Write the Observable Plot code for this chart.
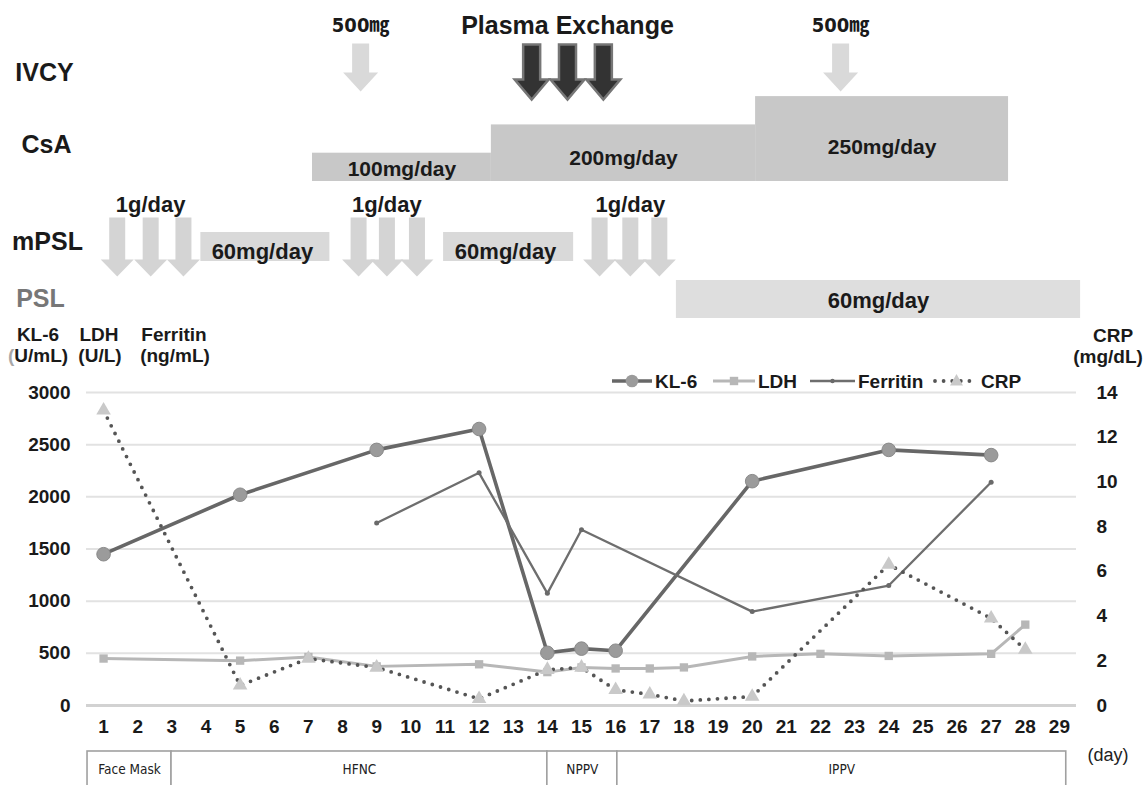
<!DOCTYPE html>
<html><head><meta charset="utf-8">
<script src="https://cdn.jsdelivr.net/npm/d3@7"></script>
<script src="https://cdn.jsdelivr.net/npm/@observablehq/plot@0.6"></script>
<style>
html,body{margin:0;padding:0;background:#fff;overflow:hidden;}
#fig{position:relative;width:1145px;height:785px;font-family:"Liberation Sans",Arial,sans-serif;color:#1a1a1a;}
.lbl{position:absolute;transform:translate(-50%,-50%);white-space:nowrap;font-weight:bold;font-size:19px;line-height:1;}
</style></head><body><div id="fig"></div>
<script>
// ---------------- DATA ----------------
const days = d3.range(1, 30);
const kl6Days   = [1, 5, 9, 12, 14, 15, 16, 20, 24, 27];
const kl6Values = [1450, 2020, 2450, 2650, 505, 545, 525, 2150, 2450, 2400];
const ldhDays   = [1, 5, 7, 9, 12, 14, 15, 16, 17, 18, 20, 22, 24, 27, 28];
const ldhValues = [450, 430, 465, 375, 395, 320, 365, 355, 355, 365, 470, 495, 475, 495, 775];
const ferritinDays   = [9, 12, 14, 15, 20, 24, 27];
const ferritinValues = [1750, 2230, 1075, 1685, 900, 1150, 2140];
const crpDays   = [1, 5, 7, 9, 12, 14, 15, 16, 17, 18, 20, 24, 27, 28];
const crpValues = [13.2, 0.9, 2.1, 1.7, 0.3, 1.6, 1.7, 0.7, 0.5, 0.2, 0.4, 6.3, 3.9, 2.5];
const leftTicks = [0, 500, 1000, 1500, 2000, 2500, 3000];
const crpTicks  = [0, 2, 4, 6, 8, 10, 12, 14];

// treatments (days, fractional positions as drawn)
const ivcyDays  = [8.53, 22.59];
const ivcyLabel = "500㎎";
const plasmaDays = [13.54, 14.59, 15.64];
const plasmaLabel = "Plasma Exchange";
const csaFrom  = [7.12, 12.36, 20.1];
const csaTo    = [12.36, 20.1, 27.51];
const csaLevel = [1, 2, 3];
const csaLabels = ["100mg/day", "200mg/day", "250mg/day"];
const mpslPulseDays = [[1.4, 2.38, 3.34], [8.47, 9.3, 10.18], [15.53, 16.43, 17.28]];
const mpslPulseLabel = "1g/day";
const mpslTaperFrom = [3.85, 10.96];
const mpslTaperTo   = [7.63, 14.77];
const mpslTaperLabel = "60mg/day";
const pslFrom = [17.78], pslTo = [29.62], pslLabel = ["60mg/day"];
const rowLabels = ["IVCY", "CsA", "mPSL", "PSL"];
const ventFrom   = [0.53, 2.99, 14.0, 16.05];
const ventTo     = [2.99, 14.0, 16.05, 29.2];
const ventLabels = ["Face Mask", "HFNC", "NPPV", "IPPV"];

// ---------------- helpers ----------------
const W = 1145;
const X = {domain: [0.5, 29.5], range: [86, 1076]};
const CRP_MAX = 14, LEFT_MAX = 3000;
const toLeft = v => v * LEFT_MAX / CRP_MAX;
const FONT = '"Liberation Sans", Arial, sans-serif';
const NARROW = '"Liberation Sans Narrow", "DejaVu Sans Condensed", "Noto Sans CJK JP", sans-serif';
const zip = (xs, ys) => xs.map((d, i) => ({day: d, v: ys[i]}));
const kl6 = zip(kl6Days, kl6Values), ldh = zip(ldhDays, ldhValues),
      fer = zip(ferritinDays, ferritinValues), crp = zip(crpDays, crpValues);

function blockArrow(sw, hw, sh, hh) {
  return {draw(ctx) {
    ctx.moveTo(-sw / 2, 0); ctx.lineTo(sw / 2, 0); ctx.lineTo(sw / 2, sh);
    ctx.lineTo(hw / 2, sh); ctx.lineTo(0, sh + hh); ctx.lineTo(-hw / 2, sh);
    ctx.lineTo(-sw / 2, sh); ctx.closePath();
  }};
}
const fig = document.getElementById("fig");
function place(node, y) { node.style.position = "absolute"; node.style.top = y + "px"; node.style.left = "0px"; fig.appendChild(node); }
function label(txt, x, y, extra = {}) {
  const d = document.createElement("div"); d.className = "lbl"; d.innerHTML = txt;
  d.style.left = x + "px"; d.style.top = y + "px"; Object.assign(d.style, extra); fig.appendChild(d);
}

// ---------------- TOP: treatments ----------------
const L = { // layout (px within top panel)
  ivcyTop: 43, ivcyText: 25, plasmaTop: 44, plasmaText: 25,
  csaBase: 181, csaStep: 28.3,
  mpslTop: 217, mpslText: 204, mpslBar: [232, 261], mpslBarText: 251,
  pslBar: [280, 318], pslText: 300,
  rowY: [72, 144, 241, 298], rowX: [44, 46, 47, 40]
};
const ivcy = ivcyDays.map(d => ({day: d, label: ivcyLabel}));
const plasma = plasmaDays.map(d => ({day: d}));
const csa = csaFrom.map((f, i) => ({from: f, to: csaTo[i], level: csaLevel[i], label: csaLabels[i]}));
const pulses = mpslPulseDays.flatMap((g, gi) => g.map((d, i) => ({day: d, g: gi, mid: i === 1})));
const tapers = mpslTaperFrom.map((f, i) => ({from: f, to: mpslTaperTo[i]}));
const psl = pslFrom.map((f, i) => ({from: f, to: pslTo[i], label: pslLabel[i]}));
const rows = rowLabels.map((r, i) => ({label: r, y: L.rowY[i], cx: L.rowX[i]}));

const topPlot = Plot.plot({
  width: W, height: 330, margin: 0,
  x: {...X, axis: null}, y: {domain: [0, 330], range: [0, 330], axis: null},
  style: {fontFamily: FONT, color: "#1a1a1a", background: "transparent", overflow: "visible"},
  marks: [
    Plot.rect(csa, {x1: "from", x2: "to", y1: d => L.csaBase - d.level * L.csaStep, y2: L.csaBase, fill: "#c8c8c8"}),
    Plot.text(csa, {x: d => (d.from + d.to) / 2, y: d => L.csaBase - d.level * L.csaStep / 2 + 3.5 * d.level - 2, text: "label", fontSize: 21, fontWeight: "bold"}),
    Plot.dot(ivcy, {x: "day", y: L.ivcyTop, symbol: blockArrow(17, 35, 29, 19), r: 10, fill: "#d9d9d9", stroke: "none"}),
    Plot.text(ivcy, {x: "day", y: L.ivcyText, text: "label", fontSize: 20, fontWeight: "bold", fontFamily: NARROW}),
    Plot.dot(plasma, {x: "day", y: L.plasmaTop, symbol: blockArrow(17, 34, 35, 20), r: 10, fill: "#333", stroke: "#767676", strokeWidth: 2.5}),
    Plot.text([plasmaLabel], {x: d3.mean(plasmaDays), y: L.plasmaText, text: d => d, fontSize: 25, fontWeight: "bold"}),
    Plot.rect(tapers, {x1: "from", x2: "to", y1: L.mpslBar[0], y2: L.mpslBar[1], fill: "#d9d9d9"}),
    Plot.text(tapers, {x: d => (d.from + d.to) / 2, y: L.mpslBarText, text: () => mpslTaperLabel, fontSize: 22, fontWeight: "bold", dx: -3}),
    Plot.dot(pulses, {x: "day", y: L.mpslTop, symbol: blockArrow(16, 33, 42, 17), r: 10, fill: "#d4d4d4", stroke: "none"}),
    Plot.text(pulses.filter(d => d.mid), {x: "day", y: L.mpslText, text: () => mpslPulseLabel, fontSize: 22, fontWeight: "bold"}),
    Plot.rect(psl, {x1: "from", x2: "to", y1: L.pslBar[0], y2: L.pslBar[1], fill: "#dedede"}),
    Plot.text(psl, {x: d => (d.from + d.to) / 2, y: L.pslText, text: "label", fontSize: 22, fontWeight: "bold"}),
    ...rows.map(r => Plot.text([r], {frameAnchor: "left", y: "y", dx: r.cx, textAnchor: "middle", text: "label", fontSize: 25, fontWeight: "bold",
      fill: r.label === "PSL" ? "#777" : "#1a1a1a"}))
  ]
});
place(topPlot, 0);

// ---------------- MAIN chart ----------------
const mainPlot = Plot.plot({
  width: W, height: 420, marginLeft: 86, marginRight: 69, marginTop: 62, marginBottom: 45,
  x: X, y: {domain: [0, LEFT_MAX]},
  style: {fontFamily: FONT, color: "#1a1a1a", background: "transparent", overflow: "visible"},
  marks: [
    Plot.gridY(leftTicks.filter(v => v > 0), {stroke: "#e2e2e2", strokeOpacity: 1, strokeWidth: 2}),
    Plot.ruleY([0], {stroke: "#d2d2d2", strokeWidth: 3}),
    Plot.axisY(leftTicks, {anchor: "left", tickSize: 0, tickPadding: 16, fontSize: 19, fontWeight: "bold", label: null, tickFormat: v => String(v)}),
    Plot.axisY(crpTicks.map(toLeft), {anchor: "right", tickSize: 0, tickPadding: 20, fontSize: 19, fontWeight: "bold", label: null,
      tickFormat: v => String(Math.round(v * CRP_MAX / LEFT_MAX))}),
    Plot.axisX(days, {anchor: "bottom", tickSize: 0, tickPadding: 14, fontSize: 19, fontWeight: "bold", label: null}),
    Plot.line(ldh, {x: "day", y: "v", stroke: "#b7b7b7", strokeWidth: 3}),
    Plot.line(kl6, {x: "day", y: "v", stroke: "#676767", strokeWidth: 3.6}),
    Plot.line(fer, {x: "day", y: "v", stroke: "#6e6e6e", strokeWidth: 2.3}),
    Plot.line(crp, {x: "day", y: d => toLeft(d.v), stroke: "#555", strokeWidth: 3.8, strokeDasharray: "0 8.6", strokeLinecap: "round"}),
    Plot.dot(ldh, {x: "day", y: "v", symbol: "square", r: 4.7, fill: "#b7b7b7", stroke: "none"}),
    Plot.dot(kl6, {x: "day", y: "v", r: 6.8, fill: "#9b9b9b", stroke: "#8a8a8a", strokeWidth: 1}),
    Plot.dot(fer, {x: "day", y: "v", r: 2.5, fill: "#6a6a6a", stroke: "none"}),
    Plot.dot(crp, {x: "day", y: d => toLeft(d.v), symbol: "triangle", r: 5.4, fill: "#c9c9c9", stroke: "none"})
  ]
});
place(mainPlot, 330);

// ---------------- BOTTOM: ventilation ----------------
const vent = ventFrom.map((f, i) => ({from: f, to: ventTo[i], label: ventLabels[i]}));
const bottomPlot = Plot.plot({
  width: W, height: 40, marginTop: 1, marginBottom: 0, marginLeft: 86, marginRight: 69,
  x: {...X, axis: null}, y: {axis: null},
  style: {fontFamily: FONT, color: "#222", background: "transparent"},
  marks: [
    Plot.rect(vent, {x1: "from", x2: "to", fill: "white", stroke: "#a0a0a0", strokeWidth: 1.6}),
    Plot.text(vent, {x: d => (d.from + d.to) / 2, text: "label", fontSize: 13.5, fontFamily: NARROW, dy: -1})
  ]
});
place(bottomPlot, 750);

// ---------------- header labels / units ----------------
label("KL-6", 38, 334); label('<span style="color:#a8a8a8">(</span>U/mL)', 38, 355);
label("LDH", 99, 334);  label("(U/L)", 100, 355);
label("Ferritin", 174, 334); label("(ng/mL)", 175, 355);
label("CRP", 1113, 335); label("(mg/dL)", 1108, 356);
label("(day)", 1108, 755, {fontWeight: "normal", fontSize: "18px", color: "#222"});

// ---------------- legend ----------------
const legendItems = [
  {name: "KL-6", x0: 612, x1: 652, stroke: "#676767", sw: 3.6, dash: null, marker: "circle", mfill: "#9b9b9b"},
  {name: "LDH", x0: 713, x1: 755, stroke: "#b7b7b7", sw: 3, dash: null, marker: "square", mfill: "#b7b7b7"},
  {name: "Ferritin", x0: 810, x1: 855, stroke: "#6e6e6e", sw: 2.3, dash: null, marker: "dot", mfill: "#6a6a6a"},
  {name: "CRP", x0: 935, x1: 978, stroke: "#555", sw: 3.8, dash: "0 8.6", marker: "triangle", mfill: "#c9c9c9"}
];
const ly = 381;
const ns = "http://www.w3.org/2000/svg";
const lsvg = document.createElementNS(ns, "svg");
lsvg.setAttribute("width", W); lsvg.setAttribute("height", 30);
lsvg.style.position = "absolute"; lsvg.style.left = "0px"; lsvg.style.top = (ly - 15) + "px";
lsvg.setAttribute("font-family", FONT);
for (const it of legendItems) {
  const cy = 15, cx = (it.x0 + it.x1) / 2;
  const ln = document.createElementNS(ns, "line");
  ln.setAttribute("x1", it.x0); ln.setAttribute("x2", it.x1); ln.setAttribute("y1", cy); ln.setAttribute("y2", cy);
  ln.setAttribute("stroke", it.stroke); ln.setAttribute("stroke-width", it.sw);
  if (it.dash) { ln.setAttribute("stroke-dasharray", it.dash); ln.setAttribute("stroke-linecap", "round"); }
  lsvg.appendChild(ln);
  let m;
  if (it.marker === "circle" || it.marker === "dot") {
    m = document.createElementNS(ns, "circle"); m.setAttribute("cx", cx); m.setAttribute("cy", cy);
    m.setAttribute("r", it.marker === "circle" ? 6.3 : 2.2);
  } else if (it.marker === "square") {
    m = document.createElementNS(ns, "rect"); m.setAttribute("x", cx - 4.2); m.setAttribute("y", cy - 4.2);
    m.setAttribute("width", 8.4); m.setAttribute("height", 8.4);
  } else {
    m = document.createElementNS(ns, "path");
    m.setAttribute("d", `M${cx},${cy - 7}L${cx + 6.5},${cy + 4.5}L${cx - 6.5},${cy + 4.5}Z`);
  }
  m.setAttribute("fill", it.mfill); lsvg.appendChild(m);
  const t = document.createElementNS(ns, "text");
  t.setAttribute("x", it.x1 + 3); t.setAttribute("y", cy); t.setAttribute("dy", "0.35em");
  t.setAttribute("font-size", 19); t.setAttribute("font-weight", "bold"); t.setAttribute("fill", "#1a1a1a");
  t.textContent = it.name; lsvg.appendChild(t);
}
fig.appendChild(lsvg);
</script></body></html>
